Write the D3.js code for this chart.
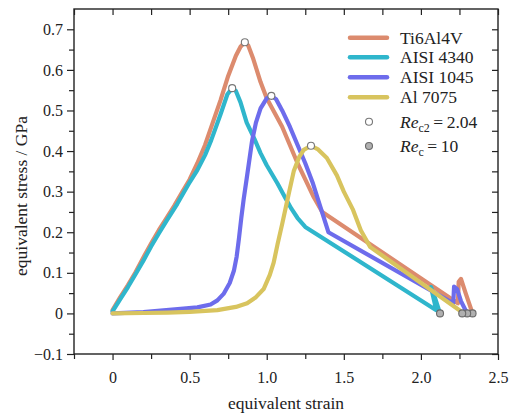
<!DOCTYPE html>
<html>
<head>
<meta charset="utf-8">
<script src="https://cdn.jsdelivr.net/npm/d3@7"></script>
<style>
  html, body { margin: 0; padding: 0; background: #fff; }
  svg { display: block; }
  svg text { font-family: "Liberation Serif", "DejaVu Serif", "Times New Roman", serif !important; fill: #222; }
</style>
</head>
<body>
<svg id="chart" width="516" height="415"></svg>
<script>
// ---------------- data ----------------
const seriesNames = ["Ti6Al4V", "AISI 4340", "AISI 1045", "Al 7075"];
const seriesColors = ["#dc8b6e", "#2fb6cc", "#6d6cec", "#d8c45e"];

// [equivalent strain, equivalent stress (GPa)]
const ti6al4v = [[0,0.008],[0.05,0.04],[0.1,0.07],[0.15,0.102],[0.2,0.138],[0.25,0.172],[0.3,0.205],[0.35,0.235],[0.4,0.265],[0.45,0.298],[0.5,0.33],[0.55,0.37],[0.6,0.415],[0.65,0.47],[0.7,0.525],[0.75,0.585],[0.8,0.635],[0.83,0.657],[0.858,0.668],[0.88,0.66],[0.91,0.63],[0.96,0.57],[1.0,0.53],[1.05,0.495],[1.1,0.46],[1.15,0.415],[1.2,0.37],[1.25,0.33],[1.3,0.29],[1.36,0.25],[2.24,0.025],[2.245,0.078],[2.26,0.085],[2.29,0.05],[2.335,0]];
const aisi4340 = [[0,0.005],[0.05,0.035],[0.1,0.065],[0.15,0.097],[0.2,0.13],[0.25,0.165],[0.3,0.197],[0.35,0.228],[0.42,0.27],[0.5,0.323],[0.55,0.353],[0.6,0.39],[0.64,0.427],[0.7,0.49],[0.745,0.54],[0.776,0.555],[0.8,0.548],[0.83,0.52],[0.87,0.47],[0.92,0.43],[0.96,0.395],[1.0,0.365],[1.07,0.32],[1.12,0.285],[1.16,0.258],[1.2,0.235],[1.25,0.213],[2.1,0.008],[2.065,0.065],[2.09,0.04],[2.124,0]];
const aisi1045 = [[0,0],[0.2,0.003],[0.46,0.012],[0.55,0.015],[0.636,0.022],[0.68,0.032],[0.72,0.048],[0.76,0.075],[0.787,0.105],[0.805,0.14],[0.82,0.185],[0.835,0.235],[0.85,0.28],[0.873,0.34],[0.905,0.425],[0.93,0.47],[0.96,0.505],[1.0,0.53],[1.03,0.536],[1.06,0.528],[1.1,0.5],[1.15,0.46],[1.2,0.415],[1.25,0.37],[1.3,0.32],[1.35,0.26],[1.40,0.2],[2.21,0.025],[2.215,0.066],[2.235,0.06],[2.26,0.03],[2.30,0]];
const al7075 = [[0,0],[0.2,0.001],[0.356,0.002],[0.5,0.004],[0.68,0.008],[0.8,0.016],[0.873,0.025],[0.93,0.04],[0.98,0.06],[1.02,0.095],[1.045,0.125],[1.07,0.17],[1.1,0.22],[1.14,0.29],[1.175,0.35],[1.21,0.385],[1.24,0.403],[1.287,0.413],[1.33,0.405],[1.39,0.383],[1.455,0.34],[1.5,0.3],[1.56,0.255],[1.61,0.205],[1.67,0.164],[2.25,0.008],[2.268,0]];
const seriesData = [ti6al4v, aisi4340, aisi1045, al7075];

// Re_c2 = 2.04 markers (peaks) and Re_c = 10 markers (ends)
const peakPoints = [[0.858,0.668],[0.776,0.555],[1.03,0.536],[1.287,0.413]];
const endPoints = [[2.335,0],[2.124,0],[2.30,0],[2.268,0]];

const xTicks = [0, 0.5, 1.0, 1.5, 2.0, 2.5];
const xTickLabels = ["0", "0.5", "1.0", "1.5", "2.0", "2.5"];
const yTicks = [-0.1, 0, 0.1, 0.2, 0.3, 0.4, 0.5, 0.6, 0.7];
const yTickLabels = ["\u22120.1", "0", "0.1", "0.2", "0.3", "0.4", "0.5", "0.6", "0.7"];
const xMinorTicks = [-0.25, 0.25, 0.75, 1.25, 1.75, 2.25];
const yMinorTicks = [-0.05, 0.05, 0.15, 0.25, 0.35, 0.45, 0.55, 0.65];

// ---------------- drawing ----------------
const svg = d3.select("#chart");
const L = 74, R = 498, T = 9, B = 354;
const x = d3.scaleLinear().domain([-0.25, 2.5]).range([L, R]);
const y = d3.scaleLinear().domain([-0.1, 0.75]).range([B, T]);

const line = d3.line().x(d => x(d[0])).y(d => y(d[1])).curve(d3.curveLinear);

const plot = svg.append("g");
seriesData.forEach((data, i) => {
  plot.append("path")
    .datum(data)
    .attr("d", line)
    .attr("fill", "none")
    .attr("stroke", seriesColors[i])
    .attr("stroke-width", 4.2)
    .attr("stroke-linejoin", "round")
    .attr("stroke-linecap", "round");
});

plot.selectAll("circle.peak").data(peakPoints).join("circle")
  .attr("class", "peak")
  .attr("cx", d => x(d[0])).attr("cy", d => y(d[1])).attr("r", 3.5)
  .attr("fill", "#fff").attr("stroke", "#777").attr("stroke-width", 1.1);

plot.selectAll("circle.end").data(endPoints).join("circle")
  .attr("class", "end")
  .attr("cx", d => x(d[0])).attr("cy", d => y(d[1])).attr("r", 3.5)
  .attr("fill", "#b0b0b0").attr("stroke", "#6a6a6a").attr("stroke-width", 1.1);

// axes
const axisColor = "#222";
function styleAxis(g) {
  g.attr("font-family", null).attr("font-size", null);
  g.select(".domain").remove();
  g.selectAll(".tick line").attr("stroke", axisColor).attr("stroke-width", 1.2);
  g.selectAll(".tick text").style("font-size", "16px").attr("fill", "#333");
}

// bottom
svg.append("g").attr("transform", `translate(0,${B})`)
  .call(d3.axisBottom(x).tickValues(xTicks).tickFormat((d, i) => xTickLabels[i]).tickSize(6).tickPadding(12))
  .call(styleAxis);
svg.append("g").attr("transform", `translate(0,${B})`)
  .call(d3.axisBottom(x).tickValues(xMinorTicks).tickFormat("").tickSize(5))
  .call(styleAxis);
// top (inward)
svg.append("g").attr("transform", `translate(0,${T})`)
  .call(d3.axisBottom(x).tickValues(xTicks.concat(xMinorTicks)).tickFormat("").tickSize(6))
  .call(styleAxis);
// left
svg.append("g").attr("transform", `translate(${L},0)`)
  .call(d3.axisLeft(y).tickValues(yTicks).tickFormat((d, i) => yTickLabels[i]).tickSize(7).tickPadding(4))
  .call(styleAxis);
svg.append("g").attr("transform", `translate(${L},0)`)
  .call(d3.axisLeft(y).tickValues(yMinorTicks).tickFormat("").tickSize(5))
  .call(styleAxis);
// right (inward)
svg.append("g").attr("transform", `translate(${R},0)`)
  .call(d3.axisLeft(y).tickValues(yTicks.concat(yMinorTicks)).tickFormat("").tickSize(6))
  .call(styleAxis);

// frame
svg.append("rect").attr("x", L).attr("y", T).attr("width", R - L).attr("height", B - T)
  .attr("fill", "none").attr("stroke", axisColor).attr("stroke-width", 1.4);

// axis labels
svg.append("text").attr("x", 286).attr("y", 409).attr("text-anchor", "middle")
  .style("font-size", "17.5px").text("equivalent strain");
svg.append("text").attr("transform", "translate(27,196) rotate(-90)").attr("text-anchor", "middle")
  .style("font-size", "17.5px").text("equivalent stress / GPa");

// legend
const legRows = [37.7, 57.3, 77.3, 97.3];
const leg = svg.append("g");
seriesNames.forEach((name, i) => {
  leg.append("line").attr("x1", 350).attr("x2", 387).attr("y1", legRows[i]).attr("y2", legRows[i])
    .attr("stroke", seriesColors[i]).attr("stroke-width", 4.5).attr("stroke-linecap", "round");
  leg.append("text").attr("x", 400).attr("y", legRows[i] + 6).style("font-size", "17.5px").text(name);
});
leg.append("circle").attr("cx", 369).attr("cy", 121.7).attr("r", 3.5)
  .attr("fill", "#fff").attr("stroke", "#777").attr("stroke-width", 1.1);
leg.append("circle").attr("cx", 369).attr("cy", 146).attr("r", 3.5)
  .attr("fill", "#b0b0b0").attr("stroke", "#6a6a6a").attr("stroke-width", 1.1);

const t1 = leg.append("text").attr("x", 400).attr("y", 127.7).style("font-size", "17.5px");
t1.append("tspan").style("font-style", "italic").text("Re");
t1.append("tspan").attr("dy", 4).style("font-size", "12px").text("c2");
t1.append("tspan").attr("dy", -4).text("\u2009=\u20092.04");
const t2 = leg.append("text").attr("x", 400).attr("y", 152).style("font-size", "17.5px");
t2.append("tspan").style("font-style", "italic").text("Re");
t2.append("tspan").attr("dy", 4).style("font-size", "12px").text("c");
t2.append("tspan").attr("dy", -4).text("\u2009=\u200910");
</script>
</body>
</html>
